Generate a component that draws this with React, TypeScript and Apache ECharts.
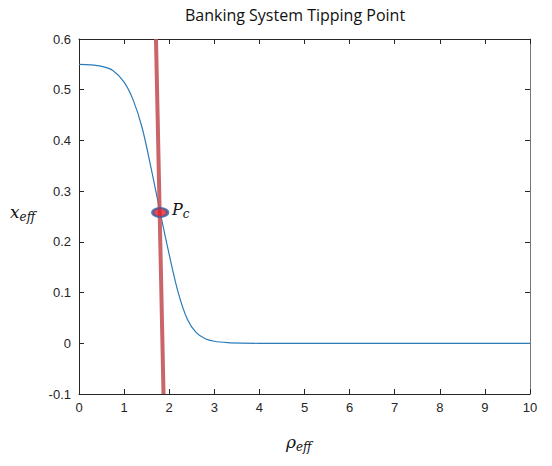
import React, { useEffect, useRef } from "react";
import * as echarts from "echarts";

const curveX = [0, 0.25, 0.5, 0.75, 1.0, 1.2, 1.4, 1.6, 1.8, 2.0, 2.2, 2.4, 2.6, 2.8, 3.0, 3.3, 3.6, 4, 5, 6, 7, 8, 9, 10];
const curveY = [0.55, 0.549, 0.546, 0.538, 0.515, 0.48, 0.425, 0.345, 0.258, 0.175, 0.1, 0.048, 0.021, 0.009, 0.004, 0.0012, 0.0003, 0, 0, 0, 0, 0, 0, 0];
const redLineX = [1.707, 1.874];
const redLineY = [0.6, -0.1];
const pcPoint = [1.8, 0.258];
const xTicks = [0, 1, 2, 3, 4, 5, 6, 7, 8, 9, 10];
const yTicks = [-0.1, 0, 0.1, 0.2, 0.3, 0.4, 0.5, 0.6];

export default function App() {
  const ref = useRef<HTMLDivElement>(null);
  useEffect(() => {
    document.body.style.margin = "0";
    const chart = echarts.init(ref.current!, null, { renderer: "svg" });
    const axisColor = "#262626";
    const labelStyle = { color: "#262626", fontFamily: "Liberation Sans, Arial, sans-serif", fontSize: 13 };
    const tick = { show: true, inside: true, length: 5, lineStyle: { color: axisColor } };
    chart.setOption({
      animation: false,
      backgroundColor: "#fff",
      title: {
        text: "Banking System Tipping Point",
        left: 290,
        top: 2,
        textAlign: "center",
        textStyle: { fontFamily: "Open Sans", fontWeight: "normal", fontSize: 16, color: "#111" },
      },
      grid: { left: 79, right: 22, top: 39, bottom: 72 },
      xAxis: [
        {
          type: "value", min: xTicks[0], max: xTicks[xTicks.length - 1], interval: 1,
          axisLine: { show: true, onZero: false, lineStyle: { color: axisColor } },
          axisTick: tick,
          axisLabel: { ...labelStyle, margin: 7 },
          splitLine: { show: false },
        },
        {
          type: "value", position: "top", min: 0, max: 10, interval: 1,
          axisLine: { show: true, onZero: false, lineStyle: { color: axisColor } },
          axisTick: tick,
          axisLabel: { show: false },
          splitLine: { show: false },
        },
      ],
      yAxis: [
        {
          type: "value", min: yTicks[0], max: yTicks[yTicks.length - 1], interval: 0.1,
          axisLine: { show: true, onZero: false, lineStyle: { color: axisColor } },
          axisTick: tick,
          axisLabel: { ...labelStyle, margin: 8, formatter: (v: number) => String(Math.round(v * 10) / 10) },
          splitLine: { show: false },
        },
        {
          type: "value", position: "right", min: -0.1, max: 0.6, interval: 0.1,
          axisLine: { show: true, onZero: false, lineStyle: { color: "#777" } },
          axisTick: tick,
          axisLabel: { show: false },
          splitLine: { show: false },
        },
      ],
      graphic: [
        {
          type: "text", left: 286, top: 433,
          style: {
            text: "{a|ρ}{b|eff}",
            rich: {
              a: { fontFamily: "DejaVu Serif", fontStyle: "italic", fontSize: 17, fill: "#111" },
              b: { fontFamily: "DejaVu Serif", fontStyle: "italic", fontSize: 12, fill: "#111", padding: [10, 0, 0, 0] },
            },
          },
        },
        {
          type: "text", left: 10, top: 203,
          style: {
            text: "{a|x}{b|eff}",
            rich: {
              a: { fontFamily: "DejaVu Serif", fontStyle: "italic", fontSize: 17, fill: "#111" },
              b: { fontFamily: "DejaVu Serif", fontStyle: "italic", fontSize: 12, fill: "#111", padding: [10, 0, 0, 0] },
            },
          },
        },
        {
          type: "text", left: 172, top: 201,
          style: {
            text: "{a|P}{b|c}",
            rich: {
              a: { fontFamily: "DejaVu Serif", fontStyle: "italic", fontSize: 16, fill: "#111" },
              b: { fontFamily: "DejaVu Serif", fontStyle: "italic", fontSize: 12, fill: "#111", padding: [9, 0, 0, 0] },
            },
          },
        },
      ],
      series: [
        {
          type: "line",
          data: curveX.map((x, i) => [x, curveY[i]]),
          smooth: 0.3,
          showSymbol: false,
          lineStyle: { color: "#2b7bb9", width: 1.2 },
          z: 2,
        },
        {
          type: "line",
          data: redLineX.map((x, i) => [x, redLineY[i]]),
          showSymbol: false,
          lineStyle: { color: "#c4545a", width: 4, opacity: 0.9 },
          z: 3,
        },
        {
          type: "scatter",
          data: [pcPoint],
          symbol: "circle",
          symbolSize: [15, 9],
          itemStyle: { color: "#e0202a", borderColor: "#3a5aa0", borderWidth: 2.5 },
          z: 4,
        },
      ],
    });
    return () => chart.dispose();
  }, []);
  return <div ref={ref} style={{ width: 552, height: 466 }} />;
}
